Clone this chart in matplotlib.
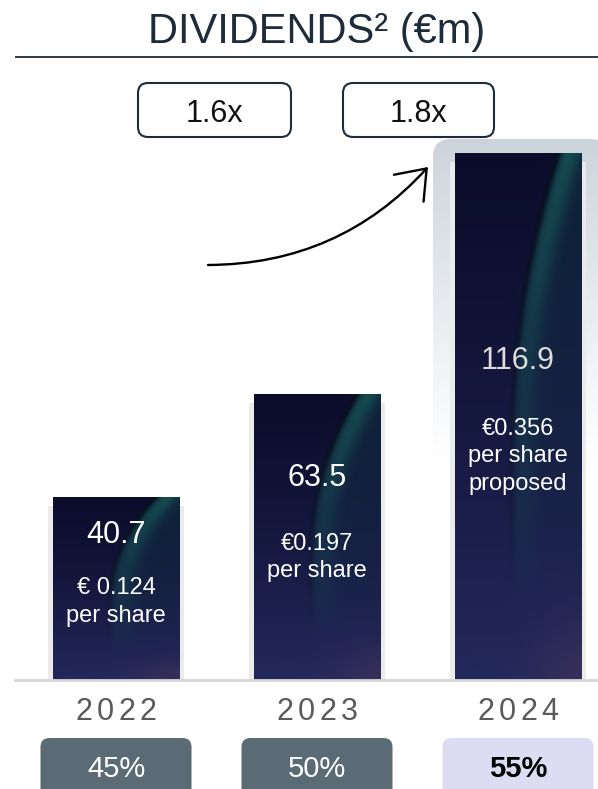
import numpy as np
import matplotlib
matplotlib.use('Agg')
import matplotlib.pyplot as plt
from matplotlib.patches import FancyBboxPatch, FancyArrowPatch, ArrowStyle
from matplotlib import transforms

# ---------------- data ----------------
years = ['2022', '2023', '2024']
dividends = [40.7, 63.5, 116.9]
value_labels = ['40.7', '63.5', '116.9']
per_share = [['€ 0.124', 'per share'],
             ['€0.197', 'per share'],
             ['€0.356', 'per share', 'proposed']]
payout = ['45%', '50%', '55%']
growth = ['1.6x', '1.8x']

# ---------------- layout ----------------
W, H, DPI = 598, 789, 100
plt.rcParams['font.family'] = ['Liberation Sans', 'DejaVu Sans']
DARK = '#1d2b3a'

fig = plt.figure(figsize=(W / DPI, H / DPI), dpi=DPI)
bg = fig.add_axes([0, 0, 1, 1], zorder=0)
bg.axis('off')

base_px, top_px = 680, 139
ax = fig.add_axes([0, (H - base_px) / H, 1, (base_px - top_px) / H], zorder=1)
ax.axis('off')
first_c, step = 116, 201
XL = (-first_c / step, (W - first_c) / step)
YL = (0, 120)

x = np.arange(len(years))
bw = 127 / step


def bar_texture(nrows=400, ncols=120):
    t = np.linspace(0, 1, nrows)[:, None]
    u = np.linspace(0, 1, ncols)[None, :]
    top = np.array([0.045, 0.05, 0.17])
    bot = np.array([0.14, 0.16, 0.36])
    img = np.broadcast_to((top + (bot - top) * (t ** 1.3)[..., None]),
                          (nrows, ncols, 3)).copy()
    e = 0.45 + 0.37 * np.clip(1 - t / 0.55, 0, 1) ** 2
    d = u - e
    fade = np.clip(1 - t / 0.85, 0, 1) ** 0.8
    s = 1 / (1 + np.exp(-d / 0.015))
    band = s * (0.3 + 0.55 * np.exp(-((d - 0.09) / 0.1) ** 2)) * fade
    teal = np.array([0.09, 0.33, 0.34])
    img += (teal - img) * band[..., None]
    line = np.exp(-(d / 0.025) ** 2) * fade
    img *= (1 - 0.45 * line)[..., None]
    purple = np.array([0.26, 0.20, 0.35])
    pw = np.exp(-(((1 - u) / 0.35) ** 2 + ((1 - t) / 0.12) ** 2))
    img += (purple - img) * (0.6 * pw)[..., None]
    return np.clip(img, 0, 1)


tex = bar_texture()

# highlight behind 2024 bar
hl_rows = 300
tt = np.linspace(0, 1, hl_rows)[:, None, None]
ctop = np.array([0.80, 0.83, 0.86])
fade = np.clip(1 - tt / 0.6, 0, 1) ** 1.1
hl = np.ones((hl_rows, 2, 3)) - (1 - ctop) * fade
hl_patch = FancyBboxPatch((433, top_px), 175, base_px - top_px,
                          boxstyle='round,pad=0,rounding_size=18',
                          transform=bg.transData, fc='none', ec='none')
im_hl = bg.imshow(hl, extent=[433, 608, base_px, top_px], aspect='auto',
                  origin='upper', zorder=1, interpolation='bilinear')
im_hl.set_clip_path(hl_patch)

# bar shadows
shadow_px_l, shadow_px_r, shadow_top = 5, 4, 9
ax.bar(x + (shadow_px_r - shadow_px_l) / 2 / step,
       [v - shadow_top / 4.508 for v in dividends],
       width=(127 + shadow_px_l + shadow_px_r) / step,
       color='#ebebeb', zorder=1, linewidth=0)

bars = ax.bar(x, dividends, width=bw, color='#1b1f4a', zorder=2, linewidth=0)
for xi, v, b in zip(x, dividends, bars):
    im = ax.imshow(tex, extent=[xi - bw / 2, xi + bw / 2, 0, v], aspect='auto',
                   origin='upper', zorder=3, interpolation='bilinear')
    im.set_clip_path(b)

ax.set_xlim(*XL)
ax.set_ylim(*YL)
bg.set_xlim(0, W)
bg.set_ylim(H, 0)

ax.axhline(0, xmin=15 / W, xmax=1, color='#d6d6d6', lw=2.0, zorder=5, clip_on=False)

trans = transforms.blended_transform_factory(ax.transData, bg.transData)

# text inside bars (baseline pixel positions)
value_y = [543, 486, 369]
value_col = ['white', 'white', '#dcdcdc']
share_y = [[594, 622], [550, 577], [435, 462, 490]]
for i in range(len(years)):
    ax.text(x[i], value_y[i], value_labels[i], transform=trans, ha='center',
            va='baseline', fontsize=22, color=value_col[i], zorder=6)
    for line, yy in zip(per_share[i], share_y[i]):
        ax.text(x[i], yy, line, transform=trans, ha='center', va='baseline',
                fontsize=17, color='white', zorder=6)

# year labels (letter spaced)
pitch = 21.5
for i, yr in enumerate(years):
    n = len(yr)
    for k, ch in enumerate(yr):
        tr = transforms.offset_copy(trans, fig=fig, x=(k - (n - 1) / 2) * pitch,
                                    y=0, units='dots')
        bg.text(x[i], 720, ch, transform=tr, ha='center', va='baseline',
                fontsize=22, color='#5a5a5a')

# payout boxes
fig.canvas.draw()
for i, p in enumerate(payout):
    cx = ax.transData.transform((x[i], 0))[0]
    last = (i == len(payout) - 1)
    fc = '#dedcf3' if last else '#5b6b75'
    bg.add_patch(FancyBboxPatch((cx - 75.5, 738), 151, 70,
                                boxstyle='round,pad=0,rounding_size=9',
                                fc=fc, ec='none', zorder=2))
    bg.text(cx, 777, p, ha='center', va='baseline', fontsize=21,
            color='black' if last else 'white',
            fontweight='bold' if last else 'normal', zorder=3)

# title
bg.text(317, 43, 'DIVIDENDS² (€m)', ha='center', va='baseline', fontsize=30,
        color=DARK)
bg.plot([15, W], [57, 57], color=DARK, lw=1.3, solid_capstyle='butt')

# growth boxes
for (x0, x1), g in zip([(138, 291), (343, 494)], growth):
    bg.add_patch(FancyBboxPatch((x0, 83), x1 - x0, 54,
                                boxstyle='round,pad=0,rounding_size=10',
                                fc='white', ec=DARK, lw=1.5, zorder=2))
    bg.text((x0 + x1) / 2, 122, g, ha='center', va='baseline', fontsize=22,
            color='#111111', zorder=3)

# arrow
arr = FancyArrowPatch((208, 265), (428, 167),
                      connectionstyle='arc3,rad=0.22',
                      arrowstyle=ArrowStyle('->', head_length=0.6, head_width=0.45),
                      mutation_scale=32, lw=1.7, color='black',
                      shrinkA=0, shrinkB=0, capstyle='round', zorder=3)
bg.add_patch(arr)

bg.set_xlim(0, W)
bg.set_ylim(H, 0)
fig.savefig('out.png', dpi=DPI)
